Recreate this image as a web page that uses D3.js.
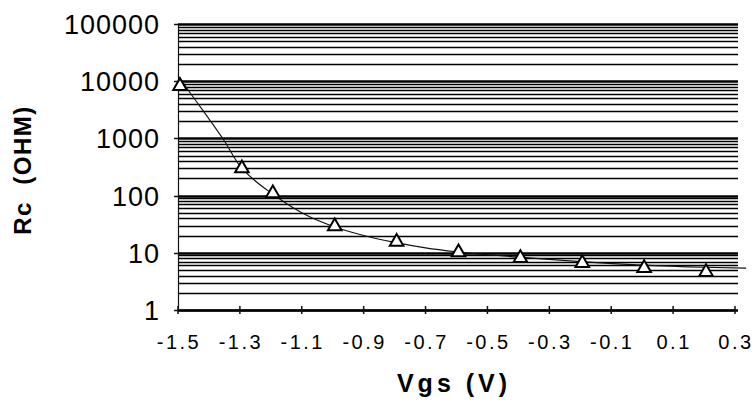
<!DOCTYPE html>
<html>
<head>
<meta charset="utf-8">
<script src="https://cdn.jsdelivr.net/npm/d3@7"></script>
<style>
  html, body { margin: 0; padding: 0; background: #fff; }
  svg { display: block; }
  text { font-family: "Liberation Sans", Arial, Helvetica, sans-serif; fill: #000; }
</style>
</head>
<body>
<svg id="chart" width="754" height="406"></svg>
<script>
// Measured points (Vgs in V, Rc in ohm)
const vgs = [-1.5, -1.3, -1.2, -1.0, -0.8, -0.6, -0.4, -0.2, 0.0, 0.2];
const rc  = [8200, 300, 110, 29, 15.5, 10.2, 8.1, 6.6, 5.4, 4.6];

// Smooth trend curve
const trendVgs = [-1.5, -1.45, -1.4, -1.35, -1.3, -1.25, -1.2, -1.1, -1.0, -0.9, -0.8, -0.7, -0.6, -0.4, -0.2, 0.0, 0.2, 0.336];
const trendRc  = [12500, 5200, 2200, 900, 330, 180, 112, 50, 29, 20, 15.2, 12.2, 10.4, 8.4, 7.0, 6.1, 5.6, 5.4];

// Axis tick labels
const xTicks = [-1.5, -1.3, -1.1, -0.9, -0.7, -0.5, -0.3, -0.1, 0.1, 0.3];
const xTickLabels = ["-1.5", "-1.3", "-1.1", "-0.9", "-0.7", "-0.5", "-0.3", "-0.1", "0.1", "0.3"];
const yTicks = [1, 10, 100, 1000, 10000, 100000];
const yTickLabels = ["1", "10", "100", "1000", "10000", "100000"];

const xTitle = "Vgs (V)";
const yTitle = "Rc  (OHM)";

const svg = d3.select("#chart");
const pLeft = 178, pRight = 735, pTop = 24, pBottom = 310;

const x = d3.scaleLinear().domain([-1.5, 0.3]).range([pLeft, pRight]);
const y = d3.scaleLog().domain([1, 100000]).range([pBottom, pTop]);

// Gridlines (major + minor per decade)
const gridVals = [];
for (let d = 1; d < 100000; d *= 10) {
  for (let k = 1; k <= 9; k++) gridVals.push(k * d);
}
gridVals.push(100000);
const isMajor = d => Math.abs(Math.log10(d) - Math.round(Math.log10(d))) < 1e-9;

svg.append("g").selectAll("line")
  .data(gridVals)
  .join("line")
  .attr("x1", pLeft)
  .attr("x2", pRight + 3)
  .attr("y1", d => Math.round(y(d)) + 0.5)
  .attr("y2", d => Math.round(y(d)) + 0.5)
  .attr("stroke", "#000")
  .attr("stroke-width", d => isMajor(d) ? 2.4 : 1.7);

// Left axis line
svg.append("line")
  .attr("x1", pLeft + 0.5).attr("x2", pLeft + 0.5)
  .attr("y1", pTop).attr("y2", pBottom)
  .attr("stroke", "#111").attr("stroke-width", 1.2);

// Y major ticks
svg.append("g").selectAll("line")
  .data(yTicks)
  .join("line")
  .attr("x1", pLeft - 4).attr("x2", pLeft)
  .attr("y1", d => Math.round(y(d)) + 0.5)
  .attr("y2", d => Math.round(y(d)) + 0.5)
  .attr("stroke", "#111").attr("stroke-width", 1.5);

// X axis line + ticks
svg.append("line")
  .attr("x1", pLeft).attr("x2", pRight + 1)
  .attr("y1", pBottom + 0.5).attr("y2", pBottom + 0.5)
  .attr("stroke", "#000").attr("stroke-width", 2);
svg.append("g").selectAll("line")
  .data(xTicks)
  .join("line")
  .attr("x1", d => x(d)).attr("x2", d => x(d))
  .attr("y1", pBottom - 4).attr("y2", pBottom + 4)
  .attr("stroke", "#111").attr("stroke-width", 1.5);

// Y tick labels
svg.append("g").selectAll("text")
  .data(yTicks)
  .join("text")
  .attr("x", 160)
  .attr("y", d => y(d) + 10)
  .attr("text-anchor", "end")
  .style("font-size", "27px")
  .style("letter-spacing", "1px")
  .text((d, i) => yTickLabels[i]);

// X tick labels
svg.append("g").selectAll("text")
  .data(xTicks)
  .join("text")
  .attr("x", d => x(d) + 1)
  .attr("y", 349)
  .attr("text-anchor", "middle")
  .style("font-size", "20px")
  .style("letter-spacing", "2.5px")
  .text((d, i) => xTickLabels[i]);

// Trend curve
const line = d3.line()
  .x((d, i) => x(trendVgs[i]))
  .y((d, i) => y(trendRc[i]))
  .curve(d3.curveMonotoneX);
svg.append("path")
  .datum(trendVgs)
  .attr("d", line)
  .attr("fill", "none")
  .attr("stroke", "#111")
  .attr("stroke-width", 1.1);

// Triangle markers
const tri = d3.symbol().type(d3.symbolTriangle).size(80);
svg.append("g").selectAll("path")
  .data(vgs)
  .join("path")
  .attr("transform", (d, i) => `translate(${x(d) + 2},${y(rc[i])})`)
  .attr("d", tri)
  .attr("fill", "#fff")
  .attr("stroke", "#000")
  .attr("stroke-width", 2);

// Axis titles
svg.append("text")
  .attr("x", 454)
  .attr("y", 392)
  .attr("text-anchor", "middle")
  .style("font-size", "25px")
  .style("font-weight", "bold")
  .style("letter-spacing", "4px")
  .text(xTitle);

svg.append("text")
  .attr("transform", "translate(31,170) rotate(-90)")
  .attr("text-anchor", "middle")
  .attr("xml:space", "preserve")
  .style("white-space", "pre")
  .style("font-size", "24px")
  .style("font-weight", "bold")
  .style("letter-spacing", "1.5px")
  .text(yTitle);
</script>
</body>
</html>
